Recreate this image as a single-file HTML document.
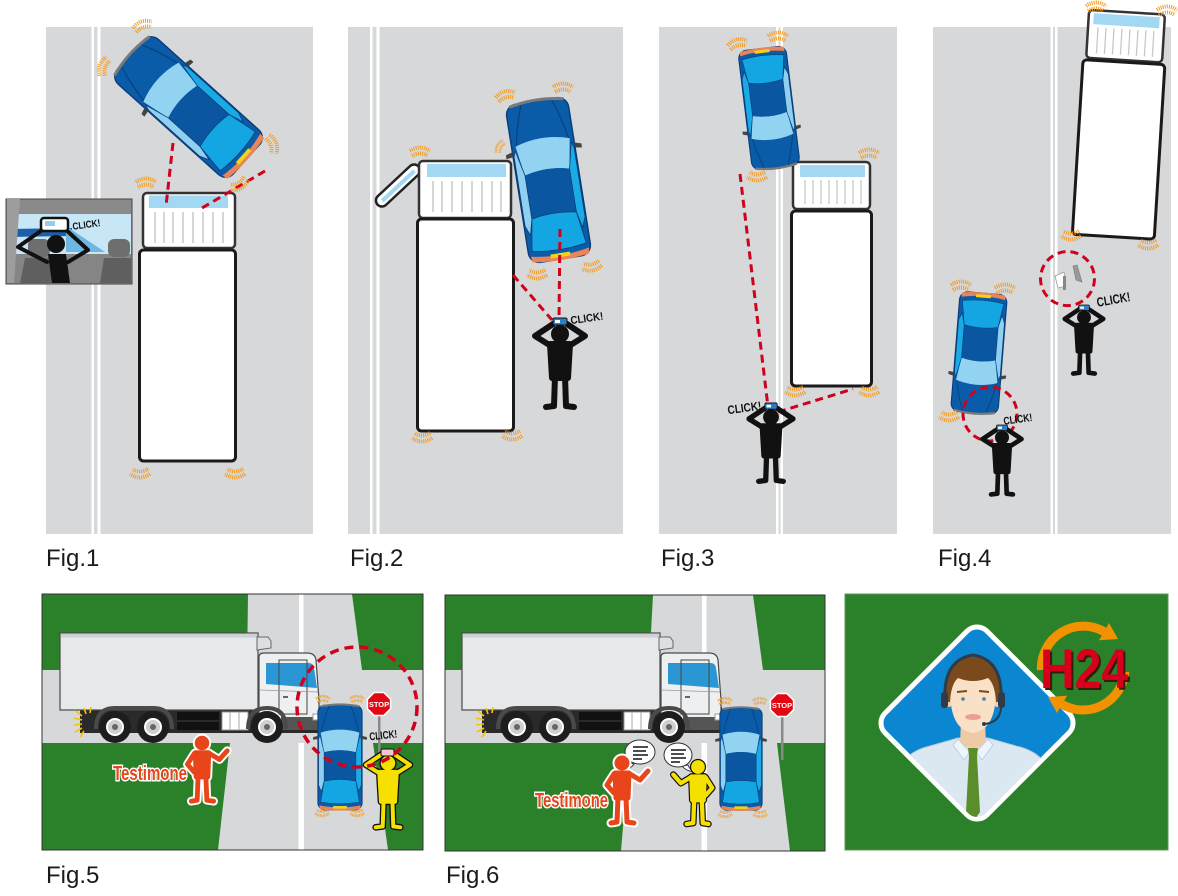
<!DOCTYPE html>
<html><head><meta charset="utf-8"><style>
html,body{margin:0;padding:0;background:#fff;}
svg{display:block;}
text{font-family:"Liberation Sans",sans-serif;}
</style></head><body>
<svg width="1178" height="896" viewBox="0 0 1178 896" xmlns="http://www.w3.org/2000/svg" xmlns:xlink="http://www.w3.org/1999/xlink">
<defs>
 <g id="car">
  <rect x="-32" y="-80" width="64" height="160" rx="11" fill="#0b5ca8" stroke="#0a3d78" stroke-width="1.5"/>
  <path d="M-28,-78 Q0,-84 28,-78" stroke="#7a7a7a" stroke-width="3" fill="none"/>
  <path d="M-16,-78 Q-23,-60 -27,-38 M16,-78 Q23,-60 27,-38" stroke="#083f7c" stroke-width="1.2" fill="none"/>
  <path d="M-28,-38 Q0,-47 28,-38 L23,-8 Q0,-14 -23,-8 Z" fill="#93d3f2"/>
  <path d="M-23,-8 Q0,-14 23,-8 L23,36 Q0,31 -23,36 Z" fill="#0a56a0"/>
  <path d="M-29,-34 L-23,-8 L-23,36 L-27,52 L-31,42 L-31,-28 Z" fill="#8fd0f0" stroke="#0a3d78" stroke-width="0.8"/>
  <path d="M29,-34 L23,-8 L23,36 L27,52 L31,42 L31,-28 Z" fill="#1aaae5" stroke="#0a3d78" stroke-width="0.8"/>
  <path d="M-23,36 Q0,31 23,36 L28,68 Q0,73 -28,68 Z" fill="#13a6e2" stroke="#0a3d78" stroke-width="0.8"/>
  <path d="M-30,73 Q0,79 30,73 L29,79 Q0,83 -29,79 Z" fill="#e8845a"/>
  <rect x="-10" y="74" width="20" height="4" fill="#f3d31a"/>
  <path d="M-32,-33 l-7,2 l0,4 l7,-1 Z" fill="#444"/>
  <path d="M32,-33 l7,2 l0,4 l-7,-1 Z" fill="#444"/>
 </g>
 <g id="sk" fill="none" stroke="#f39a1e" stroke-width="4" stroke-dasharray="1 1.1">
  <path d="M-10,1 Q0,-6 10,1"/><path d="M-8,6 Q0,1 8,6"/>
 </g>
 <g id="ph" stroke-linecap="round" stroke-linejoin="round">
  <path fill="none" d="M-9,28 L-25,18 L-7,6"/>
  <path fill="none" d="M9,28 L25,18 L7,6"/>
  <path fill="none" d="M-5,58 L-6,88 L-14,89"/>
  <path fill="none" d="M5,58 L6,88 L14,89"/>
  <circle cx="0" cy="16" r="6"/>
  <path d="M-10,26 L10,26 L8,60 L-8,60 Z"/>
 </g>
 <g id="cam"><rect x="-7" y="0" width="14" height="7" rx="1.5" fill="#2a7fc9" stroke="#111" stroke-width="1"/><rect x="-5" y="2" width="5" height="3" fill="#fff"/></g>
 <g id="wit" stroke-linecap="round" stroke-linejoin="round">
  <circle cx="0" cy="0" r="5"/>
  <path d="M-7,10 L7,10 L6,35 L-6,35 Z"/>
  <path fill="none" d="M-8,11 L-15,22 L-8,30"/>
  <path fill="none" d="M8,11 L18,17 L26,8"/>
  <path fill="none" d="M-4,34 L-5,59 L-11,60"/>
  <path fill="none" d="M4,34 L5,59 L12,60"/>
 </g>
 <g id="tr">
  <rect x="80" y="707" width="240" height="26" fill="#2a2a2a"/>
  <rect x="60" y="633" width="198" height="77" fill="#e7e8ea" stroke="#4a4a4a" stroke-width="1.2"/>
  <rect x="60.6" y="633.6" width="196.8" height="4" fill="#cfd0d3"/>
  <path d="M257,637 L268,637 L271,641 L271,648 L257,650 Z" fill="#dedfe1" stroke="#666" stroke-width="1"/>
  <path d="M259,722 L259,657 Q259,653 264,653 L307,653 Q315,653 316,660 L319,700 L319,722 Z" fill="#eeeff0" stroke="#4a4a4a" stroke-width="1.2"/>
  <path d="M266,663 L309,663 Q313,663 314,668 L317,688 L266,684 Z" fill="#2a97d4"/>
  <rect x="279" y="660" width="28" height="54" fill="none" stroke="#444" stroke-width="1"/>
  <line x1="260" y1="690" x2="318" y2="692" stroke="#999" stroke-width="0.8"/>
  <rect x="283" y="696" width="5" height="2" fill="#666"/>
  <rect x="281" y="717" width="38" height="13" fill="#555"/>
  <rect x="313" y="714" width="7" height="6" fill="#fff" stroke="#999"/>
  <rect x="177" y="712" width="42" height="8" fill="#111"/>
  <rect x="177" y="722" width="42" height="8" fill="#111"/>
  <rect x="222" y="712" width="26" height="18" fill="#fff" stroke="#999"/>
  <line x1="230" y1="712" x2="230" y2="730" stroke="#aaa"/>
  <line x1="239" y1="712" x2="239" y2="730" stroke="#aaa"/>
  <path d="M96,729 Q96,708 115,708 L153,708 Q172,708 172,729" stroke="#4a4a4a" stroke-width="4" fill="none"/>
  <path d="M248,729 Q248,708 267,708 Q286,708 286,729" stroke="#4a4a4a" stroke-width="4" fill="none"/>
  <g>
   <circle cx="115" cy="727" r="16" fill="#1d1d1d"/><circle cx="115" cy="727" r="8" fill="#cfcfcf" stroke="#fff" stroke-width="2"/><circle cx="115" cy="727" r="3" fill="#666"/>
   <circle cx="153" cy="727" r="16" fill="#1d1d1d"/><circle cx="153" cy="727" r="8" fill="#cfcfcf" stroke="#fff" stroke-width="2"/><circle cx="153" cy="727" r="3" fill="#666"/>
   <circle cx="267" cy="727" r="16" fill="#1d1d1d"/><circle cx="267" cy="727" r="8" fill="#cfcfcf" stroke="#fff" stroke-width="2"/><circle cx="267" cy="727" r="3" fill="#666"/>
  </g>
  <g stroke="#f5c400" stroke-width="1.6" fill="none">
   <path d="M82,716 l-6,-5 M82,720 l-8,-2 M82,724 l-8,1 M82,728 l-7,4 M84,731 l-4,6 M86,714 l-2,-6 M90,713 l1,-6"/>
  </g>
 </g>
 <clipPath id="dc"><rect x="-70" y="-70" width="140" height="140" rx="12" transform="translate(977,723) rotate(45)"/></clipPath>
</defs>

<!-- ===== Fig 1 ===== -->
<rect x="46" y="27" width="267" height="507" fill="#d7d8da"/>
<rect x="91.5" y="27" width="2.5" height="507" fill="#fff"/>
<rect x="97.5" y="27" width="3" height="507" fill="#fff"/>
<rect x="143" y="193" width="92" height="55" rx="4" fill="#fff" stroke="#333" stroke-width="2.5"/>
<rect x="149" y="195.5" width="79" height="12.5" fill="#a3d8f3"/>
<g stroke="#c8c8c8" stroke-width="1.5">
 <line x1="155" y1="212" x2="155" y2="243"/><line x1="164" y1="212" x2="164" y2="243"/><line x1="173" y1="212" x2="173" y2="243"/><line x1="183" y1="212" x2="183" y2="243"/><line x1="193" y1="212" x2="193" y2="243"/><line x1="203" y1="212" x2="203" y2="243"/><line x1="213" y1="212" x2="213" y2="243"/><line x1="223" y1="212" x2="223" y2="243"/>
</g>
<rect x="139.5" y="250" width="96" height="211" rx="4" fill="#fff" stroke="#1a1a1a" stroke-width="3"/>
<use href="#car" transform="translate(188.5,107) rotate(-48) scale(0.94,0.975)"/>
<g stroke="#d0021b" stroke-width="3" stroke-dasharray="8 5" fill="none">
 <line x1="173" y1="143" x2="166" y2="206"/>
 <line x1="265" y1="171" x2="202" y2="208"/>
</g>
<use href="#sk" transform="translate(142,24) rotate(-20)"/>
<use href="#sk" transform="translate(102,66) rotate(-70)"/>
<use href="#sk" transform="translate(274,144) rotate(70)"/>
<use href="#sk" transform="translate(240,186) rotate(150)"/>
<use href="#sk" transform="translate(146,181)"/>
<use href="#sk" transform="translate(140,475) rotate(180)"/>
<use href="#sk" transform="translate(235,475) rotate(180)"/>
<!-- inset -->
<g>
 <rect x="6" y="199" width="126" height="85" fill="#8a8a8a" stroke="#444" stroke-width="1"/>
 <rect x="7" y="214" width="124" height="42" fill="#c7e7f7"/>
 <path d="M7,229 L72,228 L72,236 L7,237 Z" fill="#1f5ea8"/>
 <path d="M66,226 L105,252 L66,252 Z" fill="#6fb7e2"/>
 <rect x="7" y="254" width="124" height="29" fill="#858585"/>
 <path d="M7,199 L20,199 L14,283 L7,283 Z" fill="#9d9d9d"/>
 <rect x="28" y="239" width="22" height="18" rx="6" fill="#6e6e6e"/>
 <rect x="108" y="239" width="22" height="18" rx="6" fill="#6e6e6e"/>
 <path d="M20,283 L25,258 L54,258 L58,283 Z" fill="#5f5f5f"/>
 <path d="M100,283 L104,258 L131,258 L131,283 Z" fill="#5f5f5f"/>
 <g stroke="#111" stroke-width="4" fill="none" stroke-linejoin="round" stroke-linecap="round">
  <path d="M45,228 L18,247 L47,262"/>
  <path d="M64,228 L88,250 L68,262"/>
 </g>
 <circle cx="56" cy="244" r="9" fill="#111"/>
 <path d="M48,254 L66,254 L70,283 L52,283 Z" fill="#111"/>
 <rect x="41" y="218" width="27" height="13" rx="3" fill="#fff" stroke="#111" stroke-width="2.5"/>
 <rect x="45" y="221" width="10" height="5" fill="#8fd0f0"/>
 <text x="72" y="228" font-size="10" font-weight="bold" fill="#111" textLength="28" lengthAdjust="spacingAndGlyphs" transform="rotate(-8 86 222)">CLICK!</text>
</g>

<!-- ===== Fig 2 ===== -->
<rect x="348" y="27" width="275" height="507" fill="#d7d8da"/>
<rect x="370" y="27" width="2.5" height="507" fill="#fff"/>
<rect x="376.5" y="27" width="3" height="507" fill="#fff"/>
<g transform="translate(398,185.5) rotate(-43)"><rect x="-28" y="-6" width="56" height="12" rx="6" fill="#fff" stroke="#222" stroke-width="2.5"/><rect x="-22" y="-1.5" width="44" height="4" fill="#a3d8f3"/></g>
<rect x="419" y="161" width="92" height="57" rx="4" fill="#fff" stroke="#333" stroke-width="2.5"/>
<rect x="427" y="164" width="79" height="13" fill="#a3d8f3"/>
<g stroke="#c8c8c8" stroke-width="1.5">
 <line x1="433" y1="181" x2="433" y2="212"/><line x1="442" y1="181" x2="442" y2="212"/><line x1="452" y1="181" x2="452" y2="212"/><line x1="462" y1="181" x2="462" y2="212"/><line x1="472" y1="181" x2="472" y2="212"/><line x1="482" y1="181" x2="482" y2="212"/><line x1="492" y1="181" x2="492" y2="212"/><line x1="501" y1="181" x2="501" y2="212"/>
</g>
<rect x="417.5" y="219" width="96" height="212" rx="4" fill="#fff" stroke="#1a1a1a" stroke-width="3"/>
<use href="#car" transform="translate(548.5,180) rotate(-9) scale(0.98,1)"/>
<g stroke="#d0021b" stroke-width="3" stroke-dasharray="8 5" fill="none">
 <line x1="560" y1="229" x2="559" y2="320"/>
 <line x1="513" y1="275" x2="552" y2="320"/>
</g>
<use href="#ph" transform="translate(560,318)" fill="#111" stroke="#111" stroke-width="6"/>
<use href="#cam" transform="translate(560,318)"/>
<text x="570" y="322" font-size="11" font-weight="bold" fill="#111" textLength="33" lengthAdjust="spacingAndGlyphs" transform="rotate(-8 586 316)">CLICK!</text>
<use href="#sk" transform="translate(505,94) rotate(-15)"/>
<use href="#sk" transform="translate(563,86)"/>
<use href="#sk" transform="translate(420,150)"/>
<use href="#sk" transform="translate(499,146) rotate(-60) scale(0.7)"/>
<use href="#sk" transform="translate(537,276) rotate(180)"/>
<use href="#sk" transform="translate(592,268) rotate(170)"/>
<use href="#sk" transform="translate(422,439) rotate(180)"/>
<use href="#sk" transform="translate(512,437) rotate(180)"/>

<!-- ===== Fig 3 ===== -->
<rect x="659" y="27" width="238" height="507" fill="#d7d8da"/>
<rect x="776" y="27" width="2.5" height="507" fill="#fff"/>
<rect x="780.5" y="27" width="2.5" height="507" fill="#fff"/>
<rect x="793" y="162" width="77" height="47" rx="4" fill="#fff" stroke="#333" stroke-width="2.5"/>
<rect x="800" y="165" width="65" height="12" fill="#a3d8f3"/>
<g stroke="#c8c8c8" stroke-width="1.3">
 <line x1="805" y1="180" x2="805" y2="204"/><line x1="813" y1="180" x2="813" y2="204"/><line x1="821" y1="180" x2="821" y2="204"/><line x1="829" y1="180" x2="829" y2="204"/><line x1="837" y1="180" x2="837" y2="204"/><line x1="845" y1="180" x2="845" y2="204"/><line x1="853" y1="180" x2="853" y2="204"/><line x1="861" y1="180" x2="861" y2="204"/>
</g>
<rect x="791.5" y="211" width="80" height="175" rx="4" fill="#fff" stroke="#1a1a1a" stroke-width="3"/>
<use href="#car" transform="translate(769,108) rotate(173) scale(0.75,0.75)"/>
<g stroke="#d0021b" stroke-width="3" stroke-dasharray="8 5" fill="none">
 <line x1="740" y1="174" x2="768" y2="407"/>
 <line x1="778" y1="412" x2="853" y2="389"/>
</g>
<use href="#ph" transform="translate(771,403) scale(0.88)" fill="#111" stroke="#111" stroke-width="6"/>
<use href="#cam" transform="translate(771,403) scale(0.88)"/>
<text x="727" y="412" font-size="12" font-weight="bold" fill="#111" textLength="34" lengthAdjust="spacingAndGlyphs" transform="rotate(-8 744 405)">CLICK!</text>
<use href="#sk" transform="translate(737,42) rotate(-15)"/>
<use href="#sk" transform="translate(778,35)"/>
<use href="#sk" transform="translate(869,152)"/>
<use href="#sk" transform="translate(757,178) rotate(180)"/>
<use href="#sk" transform="translate(795,393) rotate(180)"/>
<use href="#sk" transform="translate(869,393) rotate(180)"/>

<!-- ===== Fig 4 ===== -->
<rect x="933" y="27" width="238" height="507" fill="#d7d8da"/>
<rect x="1050.5" y="27" width="2.5" height="507" fill="#fff"/>
<rect x="1055" y="27" width="2.5" height="507" fill="#fff"/>
<g transform="translate(1120,127) rotate(3.5)">
 <rect x="-38" y="-115" width="76" height="48" rx="4" fill="#fff" stroke="#333" stroke-width="2.5"/>
 <rect x="-33" y="-112" width="66" height="11" fill="#a3d8f3"/>
 <g stroke="#c8c8c8" stroke-width="1.3">
  <line x1="-28" y1="-98" x2="-28" y2="-72"/><line x1="-20" y1="-98" x2="-20" y2="-72"/><line x1="-12" y1="-98" x2="-12" y2="-72"/><line x1="-4" y1="-98" x2="-4" y2="-72"/><line x1="4" y1="-98" x2="4" y2="-72"/><line x1="12" y1="-98" x2="12" y2="-72"/><line x1="20" y1="-98" x2="20" y2="-72"/><line x1="28" y1="-98" x2="28" y2="-72"/>
 </g>
 <rect x="-41" y="-65" width="82" height="175" rx="4" fill="#fff" stroke="#1a1a1a" stroke-width="3"/>
</g>
<use href="#car" transform="translate(979,353) rotate(184.6) scale(0.74,0.75)"/>
<g stroke="#d0021b" stroke-width="3" stroke-dasharray="8 5" fill="none">
 <circle cx="1067.5" cy="278.6" r="27"/>
 <circle cx="990" cy="414" r="27"/>
</g>
<path d="M1055,276 L1064,272 L1066,286 L1058,288 Z" fill="#fff" stroke="#999" stroke-width="0.8"/>
<path d="M1063,276 L1066,276 L1066,290 L1063,290 Z" fill="#888"/>
<path d="M1073,266 L1077,265 L1082,282 L1076,280 Z" fill="#9a9a9a" stroke="#777" stroke-width="0.6"/>
<use href="#ph" transform="translate(1084,305) scale(0.77)" fill="#111" stroke="#111" stroke-width="6"/>
<use href="#cam" transform="translate(1084,305) scale(0.77)"/>
<use href="#ph" transform="translate(1002,425) scale(0.78)" fill="#111" stroke="#111" stroke-width="6"/>
<use href="#cam" transform="translate(1002,425) scale(0.78)"/>
<text x="1096" y="304" font-size="13" font-weight="bold" fill="#111" textLength="34" lengthAdjust="spacingAndGlyphs" transform="rotate(-10 1113 297)">CLICK!</text>
<text x="1003" y="423" font-size="11" font-weight="bold" fill="#111" textLength="29" lengthAdjust="spacingAndGlyphs" transform="rotate(-8 1017 417)">CLICK!</text>
<use href="#sk" transform="translate(1096,5)"/>
<use href="#sk" transform="translate(1167,9)"/>
<use href="#sk" transform="translate(1071,237) rotate(180)"/>
<use href="#sk" transform="translate(1148,246) rotate(180)"/>
<use href="#sk" transform="translate(961,284)"/>
<use href="#sk" transform="translate(1005,287)"/>
<use href="#sk" transform="translate(949,418) rotate(180)"/>

<!-- labels -->
<g font-size="24" fill="#1a1a1a">
 <text x="46" y="566">Fig.1</text>
 <text x="350" y="566">Fig.2</text>
 <text x="661" y="566">Fig.3</text>
 <text x="938" y="566">Fig.4</text>
 <text x="46" y="883">Fig.5</text>
 <text x="446" y="883">Fig.6</text>
</g>

<!-- ===== Fig 5 ===== -->
<rect x="42" y="594" width="381" height="256" fill="#d7d8da"/>
<g fill="#2b8129">
 <path d="M42,594 L248,594 L247,670 L42,670 Z"/>
 <path d="M352,594 L423,594 L423,670 L362,670 Z"/>
 <path d="M42,743 L230,743 L218,850 L42,850 Z"/>
 <path d="M373,743 L423,743 L423,850 L388,850 Z"/>
</g>
<rect x="299" y="594" width="4.5" height="76" fill="#fff"/>
<rect x="298.5" y="743" width="5.5" height="107" fill="#fff"/>
<use href="#tr"/>
<use href="#car" transform="translate(340,757.5) scale(0.69,0.656)"/>
<use href="#sk" transform="translate(323,698) scale(0.7)"/>
<use href="#sk" transform="translate(357,698) scale(0.7)"/>
<use href="#sk" transform="translate(322,814) rotate(180) scale(0.7)"/>
<use href="#sk" transform="translate(357,814) rotate(180) scale(0.7)"/>
<rect x="378" y="714" width="2.5" height="40" fill="#8a8a8a"/>
<g transform="translate(379,704)">
 <polygon points="11.55,-4.78 11.55,4.78 4.78,11.55 -4.78,11.55 -11.55,4.78 -11.55,-4.78 -4.78,-11.55 4.78,-11.55" fill="#e30613" stroke="#fff" stroke-width="1.5"/>
 <text x="0" y="2.8" font-size="7.5" font-weight="bold" fill="#fff" text-anchor="middle">STOP</text>
</g>
<use href="#wit" transform="translate(202,743) scale(0.97)" fill="#fff" stroke="#fff" stroke-width="9"/>
<use href="#wit" transform="translate(202,743) scale(0.97)" fill="#e8461a" stroke="#e8461a" stroke-width="5"/>
<text x="113" y="780" font-size="20" font-weight="bold" fill="#e8461a" stroke="#fff" stroke-width="3" paint-order="stroke" textLength="74" lengthAdjust="spacingAndGlyphs">Testimone</text>
<use href="#ph" transform="translate(388,749) scale(0.88)" fill="#111" stroke="#111" stroke-width="7.5"/>
<use href="#ph" transform="translate(388,749) scale(0.88)" fill="#f5e000" stroke="#f5e000" stroke-width="4.5"/>
<rect x="381" y="749" width="13" height="7" rx="1.5" fill="#f2c6d0" stroke="#111" stroke-width="1"/>
<text x="369" y="739" font-size="11" font-weight="bold" fill="#111" textLength="28" lengthAdjust="spacingAndGlyphs" transform="rotate(-6 383 733)">CLICK!</text>
<circle cx="357" cy="707" r="60" fill="none" stroke="#d0021b" stroke-width="3.5" stroke-dasharray="9 6"/>
<rect x="42" y="594" width="381" height="256" fill="none" stroke="#333" stroke-width="1"/>

<!-- ===== Fig 6 ===== -->
<rect x="445" y="595" width="380" height="256" fill="#d7d8da"/>
<g fill="#2b8129">
 <path d="M445,595 L653,595 L649,670 L445,670 Z"/>
 <path d="M753,595 L825,595 L825,670 L763,670 Z"/>
 <path d="M445,743 L630,743 L621,851 L445,851 Z"/>
 <path d="M777,743 L825,743 L825,851 L790,851 Z"/>
</g>
<rect x="702" y="595" width="4.5" height="75" fill="#fff"/>
<rect x="701.5" y="743" width="5.5" height="108" fill="#fff"/>
<use href="#tr" transform="translate(402,0)"/>
<use href="#car" transform="translate(741,759) scale(0.66,0.64)"/>
<use href="#sk" transform="translate(725,700) scale(0.7)"/>
<use href="#sk" transform="translate(760,700) scale(0.7)"/>
<use href="#sk" transform="translate(725,815) rotate(180) scale(0.7)"/>
<use href="#sk" transform="translate(760,815) rotate(180) scale(0.7)"/>
<rect x="781" y="714" width="2.5" height="46" fill="#8a8a8a"/>
<g transform="translate(782,705)">
 <polygon points="11.55,-4.78 11.55,4.78 4.78,11.55 -4.78,11.55 -11.55,4.78 -11.55,-4.78 -4.78,-11.55 4.78,-11.55" fill="#e30613" stroke="#fff" stroke-width="1.5"/>
 <text x="0" y="2.8" font-size="7.5" font-weight="bold" fill="#fff" text-anchor="middle">STOP</text>
</g>
<g fill="#fff" stroke="#333" stroke-width="1">
 <path d="M628,762 Q626,768 622,771 Q631,769 634,764 Z"/>
 <ellipse cx="640" cy="752" rx="15" ry="12"/>
 <path d="M688,765 Q690,770 694,772 Q686,771 682,766 Z"/>
 <ellipse cx="678" cy="755" rx="14" ry="12"/>
</g>
<g stroke="#222" stroke-width="1.6">
 <line x1="633" y1="747" x2="648" y2="747"/><line x1="633" y1="751" x2="646" y2="751"/><line x1="633" y1="755" x2="648" y2="755"/><line x1="633" y1="759" x2="642" y2="759"/>
 <line x1="671" y1="750" x2="686" y2="750"/><line x1="671" y1="754" x2="684" y2="754"/><line x1="671" y1="758" x2="686" y2="758"/><line x1="671" y1="762" x2="680" y2="762"/>
</g>
<use href="#wit" transform="translate(622,763)" fill="#fff" stroke="#fff" stroke-width="9"/>
<use href="#wit" transform="translate(622,763)" fill="#e8461a" stroke="#e8461a" stroke-width="5"/>
<use href="#wit" transform="translate(698,767) scale(-0.95,0.95)" fill="#111" stroke="#111" stroke-width="7"/>
<use href="#wit" transform="translate(698,767) scale(-0.95,0.95)" fill="#f5e000" stroke="#f5e000" stroke-width="4.5"/>
<text x="535" y="807" font-size="20" font-weight="bold" fill="#e8461a" stroke="#fff" stroke-width="3" paint-order="stroke" textLength="73" lengthAdjust="spacingAndGlyphs">Testimone</text>
<rect x="445" y="595" width="380" height="256" fill="none" stroke="#333" stroke-width="1"/>

<!-- ===== Fig 7 ===== -->
<rect x="845" y="594" width="323" height="256" fill="#2b8129" stroke="#5a9a58" stroke-width="1"/>
<rect x="-72" y="-72" width="144" height="144" rx="14" fill="#0a87d0" stroke="#fff" stroke-width="5" transform="translate(977,723) rotate(45)"/>
<g clip-path="url(#dc)">
 <path d="M895,835 L900,770 Q905,752 930,746 L958,738 L988,738 L1016,746 Q1042,752 1048,770 L1055,835 Z" fill="#dce8f1" stroke="#b5cadb" stroke-width="1"/>
 <path d="M961,720 L985,720 L986,744 Q973,752 960,744 Z" fill="#efcaa6"/>
 <path d="M958,739 L970,752 L964,760 L953,745 Z" fill="#eef4f9" stroke="#b5cadb" stroke-width="0.8"/>
 <path d="M988,739 L976,752 L982,760 L993,745 Z" fill="#eef4f9" stroke="#b5cadb" stroke-width="0.8"/>
 <path d="M968,748 L978,748 L977,756 L969,756 Z" fill="#5c8d2b"/>
 <path d="M969,756 L977,756 L980,812 L973,822 L966,812 Z" fill="#5c8d2b"/>
 <ellipse cx="949" cy="700" rx="4" ry="7" fill="#f0cfae"/>
 <ellipse cx="997" cy="700" rx="4" ry="7" fill="#f0cfae"/>
 <path d="M950,690 Q950,730 973,733 Q996,730 996,690 Q996,668 973,666 Q950,668 950,690 Z" fill="#f9e0c6"/>
 <path d="M947,702 Q944,672 955,662 Q973,652 992,662 Q1002,672 999,702 L996,702 Q995,684 988,678 Q973,684 958,678 Q951,684 950,702 Z" fill="#7b4a1c"/>
 <path d="M957,692 L967,691 M979,691 L989,692" stroke="#7b4a1c" stroke-width="2"/>
 <circle cx="963" cy="699" r="1.8" fill="#4f7f98"/>
 <circle cx="984" cy="699" r="1.8" fill="#4f7f98"/>
 <ellipse cx="973" cy="717" rx="8" ry="3" fill="#e9a091"/>
 <path d="M945,700 Q943,660 973,655 Q1003,660 1001,700" stroke="#2f3b49" stroke-width="3" fill="none"/>
 <rect x="941" y="692" width="7" height="16" rx="3" fill="#2f3b49"/>
 <rect x="998" y="692" width="7" height="16" rx="3" fill="#2f3b49"/>
 <path d="M1001,708 Q1000,722 985,724" stroke="#2f3b49" stroke-width="2" fill="none"/>
 <circle cx="984" cy="724" r="2" fill="#2f3b49"/>
</g>
<g fill="none" stroke="#f39200" stroke-width="9">
 <path d="M1041.4,670 A42,42 0 0 1 1104,631.6"/>
 <path d="M1124.8,671.7 A42,42 0 0 1 1062,704.4"/>
</g>
<polygon points="1109,623 1099,640.3 1118,639" fill="#f39200"/>
<polygon points="1057,713 1067,695.7 1048,697" fill="#f39200"/>
<text x="1042" y="690" font-size="56" font-weight="bold" fill="#3a1a0a" textLength="88" lengthAdjust="spacingAndGlyphs">H24</text>
<text x="1040" y="688" font-size="56" font-weight="bold" fill="#d6001c" textLength="88" lengthAdjust="spacingAndGlyphs">H24</text>
</svg>
</body></html>
